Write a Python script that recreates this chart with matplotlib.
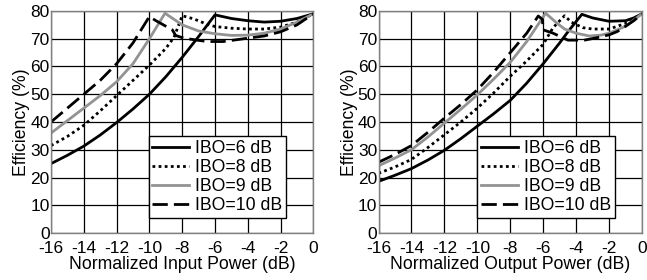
import matplotlib
matplotlib.use("Agg")
import matplotlib.pyplot as plt

plt.rcParams['font.family'] = ['Liberation Sans', 'DejaVu Sans']

labels = ["IBO=6 dB", "IBO=8 dB", "IBO=9 dB", "IBO=10 dB"]

# Left panel: efficiency vs normalized input power
in_x6 = [-16, -15, -14, -13, -12, -11, -10, -9, -8, -7, -6, -5, -4, -3, -2, -1, 0]
in_y6 = [25, 28, 31.3, 35.3, 39.8, 44.7, 50, 56.3, 63.3, 70.8, 78.6, 77.3, 76.5, 76, 76.3, 77.3, 79]
in_x8 = [-16, -15, -14, -13, -12, -11, -10, -9, -8.5, -8, -7.5, -7, -6.5, -6, -5, -4, -3, -2, -1, 0]
in_y8 = [31.5, 34.8, 38.8, 44, 49.5, 55, 60.5, 66.5, 70.5, 78.3, 77.5, 76.5, 75.2, 74.4, 73.8, 73.5, 73.5, 74.2, 76, 79]
in_x9 = [-16, -15, -14, -13, -12, -11, -10, -9.05, -8, -7, -6, -5, -4, -3, -2, -1, 0]
in_y9 = [36, 40.5, 45, 49.5, 54.5, 61, 70, 79.2, 75, 72.8, 71.8, 71.2, 71.3, 72, 73.5, 76, 79]
in_x10 = [-16, -15, -14, -13, -12, -11, -10, -9.6, -8.6, -8.4, -7.9, -6.5, -5.5, -4.5, -3, -2, -1, 0]
in_y10 = [40, 45, 50, 55, 61, 68.5, 78, 76.5, 73.2, 71.2, 70.2, 69, 69, 69.8, 71, 72.5, 75, 79]

# Right panel: efficiency vs normalized output power
out_x6 = [-16, -15, -14, -13, -12, -11, -10, -9, -8, -7, -6, -5, -4.5, -3.65, -3, -2, -1, -0.5, 0]
out_y6 = [18.6, 20.8, 23.2, 26.3, 29.8, 34, 38.5, 43, 47.8, 54, 61, 68.5, 72.5, 78.8, 77.5, 76.3, 76.5, 77.5, 79]
out_x8 = [-16, -15, -14, -13, -12, -11, -10, -9, -8, -7, -6, -5.4, -4.7, -4.3, -3.6, -3, -2, -1, 0]
out_y8 = [21.5, 23.8, 26.5, 30.8, 35.4, 40, 45, 50.5, 56.5, 62, 68, 74, 78.3, 76, 74, 73.5, 73.5, 75.5, 79]
out_x9 = [-16, -15, -14, -13, -12, -11, -10, -9, -8, -7, -5.85, -5.2, -4.7, -4, -3.2, -2.5, -2, -1, 0]
out_y9 = [24.2, 27, 30, 34.6, 39.6, 44.6, 49.8, 55.5, 61.5, 69, 79.2, 75.8, 73.5, 72, 71, 71.3, 72, 74.5, 79]
out_x10 = [-16, -15, -14, -13, -12, -11, -10, -9, -8, -7, -6.3, -6.05, -6.0, -5.4, -4.5, -3.5, -2.8, -2, -1.5, -1, -0.5, 0]
out_y10 = [25.5, 28.3, 31.5, 36.3, 41.4, 46.3, 51.6, 58, 65, 72, 78.2, 77, 73.2, 72, 69.5, 69.5, 70.3, 71.4, 72.6, 74.5, 76.5, 79]

xticks = list(range(-16, 1, 2))
yticks = list(range(0, 81, 10))

styles = [
    dict(color='black', lw=2.0, ls='-'),
    dict(color='black', lw=2.0, ls=(0, (1, 1.2))),
    dict(color='#939393', lw=2.0, ls='-'),
    dict(color='black', lw=2.0, ls=(0, (5.5, 2.2))),
]

fig = plt.figure(figsize=(6.47, 2.8), dpi=100)
ax1 = fig.add_axes([51/647, 47/280, 262.4/647, 222/280])
ax2 = fig.add_axes([378.5/647, 47/280, 263.5/647, 222/280])

panels = [
    (ax1, [(in_x6, in_y6), (in_x8, in_y8), (in_x9, in_y9), (in_x10, in_y10)], "Normalized Input Power (dB)"),
    (ax2, [(out_x6, out_y6), (out_x8, out_y8), (out_x9, out_y9), (out_x10, out_y10)], "Normalized Output Power (dB)"),
]

for ax, series, xlabel in panels:
    for (xs, ys), st, lab in zip(series, styles, labels):
        ax.plot(xs, ys, label=lab, **st)
    ax.set_xlim(-16, 0)
    ax.set_ylim(0, 80)
    ax.set_xticks(xticks)
    ax.set_yticks(yticks)
    ax.set_xticklabels([str(t) for t in xticks])
    ax.grid(True, color='black', lw=0.9)
    ax.set_axisbelow(True)
    for sp in ax.spines.values():
        sp.set_color('#808080')
        sp.set_linewidth(1.0)
    ax.tick_params(axis='x', length=0, labelsize=12.5, pad=5.5)
    ax.tick_params(axis='y', length=0, labelsize=12.5, pad=1)
    ax.set_xlabel(xlabel, fontsize=12.7, labelpad=0)
    ax.set_ylabel("Efficiency (%)", fontsize=12.7, labelpad=0)
    leg = ax.legend(loc='lower right', bbox_to_anchor=(0.896, 0.068), fontsize=12.7,
                    frameon=True, fancybox=False, framealpha=1, edgecolor='black',
                    handlelength=2.1, handletextpad=0.35, borderpad=0.2,
                    labelspacing=0.12, borderaxespad=0)
    leg.get_frame().set_linewidth(1.0)

fig.savefig("out.png", dpi=100)
